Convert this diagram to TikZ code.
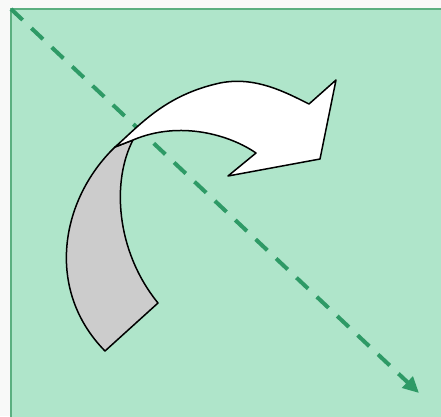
\documentclass[tikz,border=0pt]{standalone}
\usetikzlibrary{arrows.meta}
\definecolor{bgout}{HTML}{F8F9F8}
\definecolor{panel}{HTML}{AFE5CA}
\definecolor{panelborder}{HTML}{5BAF80}
\definecolor{dashgreen}{HTML}{2E9A66}
\definecolor{backgray}{HTML}{CCCCCC}
\tikzset{
  outline/.style={draw=black, line width=1.5pt, line join=round},
  diag/.style={draw=dashgreen, line width=4pt, dash pattern=on 16pt off 12pt, -{Triangle[length=16pt,width=15pt]}},
}
\begin{document}
\begin{tikzpicture}[x=1pt,y=-1pt]
\useasboundingbox (0,0) rectangle (441,416);
\clip (0,0) rectangle (441,416);
\fill[bgout] (0,0) rectangle (441,416);
\draw[fill=panel, draw=panelborder, line width=2pt] (11,9) rectangle (460,440);
\coordinate (s) at (11,9);
\coordinate (e) at (419,393);
\draw[diag] (s) -- (e);
% gray back part
\draw[outline, fill=backgray]
  (115,147) .. controls (60,200) and (45,290) .. (105,351)
  -- (158,303)
  .. controls (115,250) and (112,180) .. (133,140) -- cycle;
% white front part
\draw[outline, fill=white]
  (115,147) .. controls (140,125) and (165,95) .. (220,83)
  .. controls (255,76) and (285,92) .. (309,104)
  -- (336,80) -- (320,159) -- (228,176) -- (256,153)
  .. controls (230,135) and (180,120) .. (133,140) -- cycle;
\end{tikzpicture}
\end{document}
